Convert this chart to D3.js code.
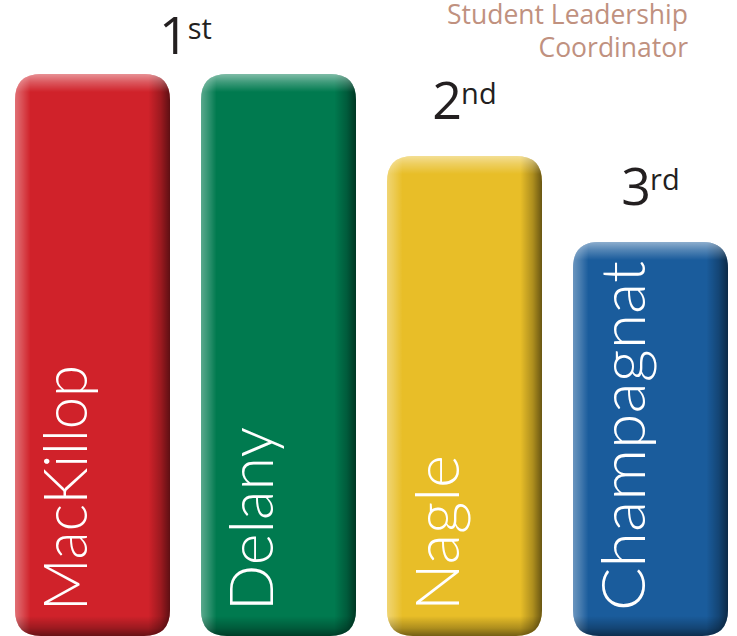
<!DOCTYPE html>
<html>
<head>
<meta charset="utf-8">
<script src="https://cdn.jsdelivr.net/npm/d3@7"></script>
<style>
  html, body { margin: 0; padding: 0; background: #ffffff; }
  svg { display: block; }
</style>
</head>
<body>
<div id="chart"></div>
<script>
// ---- data ----
const categories = ["MacKillop", "Delany", "Nagle", "Champagnat"];
const values = [100, 100, 85.4, 70.1];
const barColors = ["#d0222a", "#007a4f", "#e8be28", "#1a5c9c"];
const rankNumbers = ["1", "2", "3"];
const rankSuffixes = ["st", "nd", "rd"];
const rankGroups = [["MacKillop", "Delany"], ["Nagle"], ["Champagnat"]];
const titleLines = ["Student Leadership", "Coordinator"];

// ---- layout ----
const W = 737, H = 636;
const svg = d3.select("#chart").append("svg").attr("width", W).attr("height", H);
const defs = svg.append("defs");

const x = d3.scaleBand().domain(categories).range([15, 728]).paddingInner(31 / 186).paddingOuter(0);
const y = d3.scaleLinear().domain([0, 100]).range([636, 74]);
const r = 26;

function roundedPath(x0, y0, w, h, rad) {
  const p = d3.path();
  p.moveTo(x0 + rad, y0);
  p.lineTo(x0 + w - rad, y0);
  p.quadraticCurveTo(x0 + w, y0, x0 + w, y0 + rad);
  p.lineTo(x0 + w, y0 + h - rad);
  p.quadraticCurveTo(x0 + w, y0 + h, x0 + w - rad, y0 + h);
  p.lineTo(x0 + rad, y0 + h);
  p.quadraticCurveTo(x0, y0 + h, x0, y0 + h - rad);
  p.lineTo(x0, y0 + rad);
  p.quadraticCurveTo(x0, y0, x0 + rad, y0);
  p.closePath();
  return p.toString();
}

// horizontal bevel gradient (shared)
const hg = defs.append("linearGradient").attr("id", "hgrad")
  .attr("x1", 0).attr("x2", 1).attr("y1", 0).attr("y2", 0);
[[0, "#fff", 0.35], [0.04, "#fff", 0.22], [0.1, "#fff", 0.0],
 [0.86, "#000", 0.0], [0.94, "#000", 0.25], [1, "#000", 0.55]].forEach(s =>
  hg.append("stop").attr("offset", s[0]).attr("stop-color", s[1]).attr("stop-opacity", s[2]));

const data = categories.map((c, i) => ({ name: c, value: values[i], color: barColors[i] }));

const bars = svg.append("g").selectAll("g").data(data).join("g");

bars.each(function (d, i) {
  const g = d3.select(this);
  const x0 = x(d.name), w = x.bandwidth();
  const y0 = y(d.value), y1 = y(0);
  const h = y1 - y0;
  const path = roundedPath(x0, y0, w, h, r);

  const vg = defs.append("linearGradient").attr("id", "vgrad" + i)
    .attr("gradientUnits", "userSpaceOnUse")
    .attr("x1", 0).attr("x2", 0).attr("y1", y0).attr("y2", y1);
  [[0, "#fff", 0.5], [8, "#fff", 0.25], [18, "#fff", 0.0],
   [h - 20, "#000", 0.0], [h - 8, "#000", 0.25], [h, "#000", 0.5]].forEach(s =>
    vg.append("stop").attr("offset", s[0] / h).attr("stop-color", s[1]).attr("stop-opacity", s[2]));

  g.append("path").attr("d", path).attr("fill", d.color);
  g.append("path").attr("d", path).attr("fill", "url(#hgrad)");
  g.append("path").attr("d", path).attr("fill", "url(#vgrad" + i + ")");
});

// bar labels (rotated)
const labelLen = { "MacKillop": 246, "Delany": 184, "Nagle": 156, "Champagnat": 350 };
bars.append("text")
  .attr("transform", d => `translate(${x(d.name) + 72},611) rotate(-90)`)
  .attr("fill", "#ffffff")
  .attr("font-family", "Lato, 'Open Sans', sans-serif")
  .attr("font-weight", 300)
  .attr("font-size", 62)
  .attr("textLength", d => labelLen[d.name])
  .attr("lengthAdjust", "spacingAndGlyphs")
  .text(d => d.name);

// rank labels
const valueOf = Object.fromEntries(data.map(d => [d.name, d.value]));
rankNumbers.forEach((num, k) => {
  const grp = rankGroups[k];
  const left = d3.min(grp, n => x(n));
  const right = d3.max(grp, n => x(n) + x.bandwidth());
  const top = d3.min(grp, n => y(valueOf[n]));
  const cx = (left + right) / 2;
  const base = Math.max(54, top - 37);
  const t = svg.append("text")
    .attr("x", cx).attr("y", base)
    .attr("text-anchor", "middle")
    .attr("fill", "#231f20")
    .attr("font-family", "'Open Sans', Lato, sans-serif")
    .attr("font-weight", 400);
  t.append("tspan").attr("font-size", 52).text(num);
  t.append("tspan").attr("font-size", 29).attr("dy", -15).attr("dx", -1).text(rankSuffixes[k]);
});

// title
svg.append("g").selectAll("text").data(titleLines).join("text")
  .attr("x", 688)
  .attr("y", (d, i) => 24 + i * 33)
  .attr("text-anchor", "end")
  .attr("fill", "#c0917f")
  .attr("font-family", "'Open Sans', sans-serif")
  .attr("font-size", 26.5)
  .text(d => d);
</script>
</body>
</html>
